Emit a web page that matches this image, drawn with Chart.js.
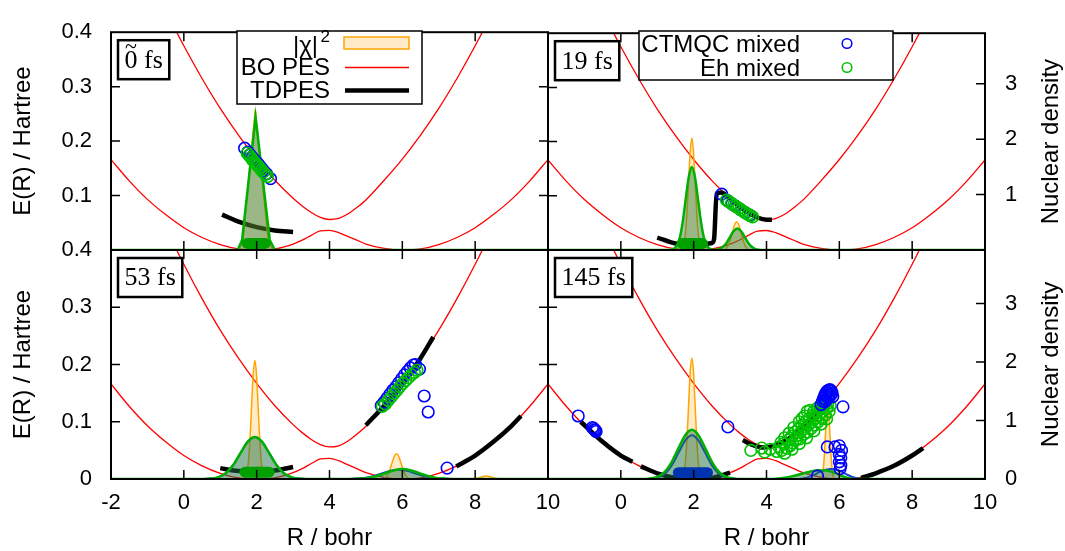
<!DOCTYPE html>
<html><head><meta charset="utf-8">
<script src="https://cdn.jsdelivr.net/npm/chart.js@4.4.1/dist/chart.umd.min.js"></script>
<style>
html,body{margin:0;padding:0;background:#fff;overflow:hidden}
#wrap{position:relative;width:1065px;height:551px;background:#fff}
canvas{position:absolute;left:0;top:0}
</style></head>
<body><div id="wrap">
<canvas id="p0" width="1065" height="551"></canvas>
<canvas id="p1" width="1065" height="551"></canvas>
<canvas id="p2" width="1065" height="551"></canvas>
<canvas id="p3" width="1065" height="551"></canvas>
</div>
<script>
// ---------- axes / ticks ----------
const X_TICKS = [-2, 0, 2, 4, 6, 8, 10];
const X_LABELS_LEFT = [-2, 0, 2, 4, 6, 8, 10];
const X_LABELS_RIGHT = [0, 2, 4, 6, 8, 10];
const E_TICKS = [0, 0.1, 0.2, 0.3, 0.4];
const E_LABELS_TOP = [0.1, 0.2, 0.3, 0.4];
const E_LABELS_BOTTOM = [0, 0.1, 0.2, 0.3, 0.4];
const D_TICKS = [0, 1, 2, 3];
const D_LABELS_TOP = [1, 2, 3];
const D_LABELS_BOTTOM = [0, 1, 2, 3];
const TIMES = ['0 fs', '19 fs', '53 fs', '145 fs'];
const TIME_TILDE = [true, false, false, false];

// ---------- BO potential energy surfaces ----------
const R_BO = [-2,-1.5,-1,-0.5,0,0.5,1,1.5,2,2.5,3,3.25,3.5,3.75,4,4.25,4.5,4.75,5,5.5,6,6.5,7,7.5,8,8.5,9,9.5,10];
const BO_LOWER = [0.166,0.127,0.093,0.065,0.041,0.023,0.010,0.002,0.000,0.002,0.011,0.018,0.027,0.035,0.036,0.032,0.025,0.018,0.011,0.003,0.000,0.002,0.010,0.023,0.041,0.065,0.093,0.127,0.166];
const BO_UPPER = [0.666,0.585,0.510,0.440,0.375,0.315,0.260,0.211,0.167,0.128,0.095,0.081,0.069,0.060,0.056,0.058,0.066,0.078,0.092,0.128,0.167,0.211,0.260,0.315,0.375,0.440,0.510,0.585,0.666];

// ---------- TDPES (R, E) ----------
const TDPES_0 = [[1.05,0.065],[1.5,0.052],[2.0,0.042],[2.5,0.036],[3.0,0.033]];
const TDPES_19 = [[1.0,0.023],[1.5,0.012],[2.0,0.009],[2.5,0.013],[2.56,0.02],[2.63,0.104],[2.75,0.106],[3.0,0.095],[3.25,0.081],[3.5,0.069],[3.75,0.060],[4.0,0.056],[4.15,0.056]];
const TDPES_53 = [[1.0,0.019],[1.5,0.014],[2.0,0.013],[2.5,0.015],[3.0,0.021],[4.0,null],[5.0,0.094],[5.5,0.128],[6.0,0.167],[6.5,0.211],[6.85,0.248],[7.2,null],[7.48,0.022],[8.0,0.041],[8.5,0.065],[9.0,0.093],[9.26,0.110]];
const TDPES_145 = [[-1.1,0.100],[-0.5,0.065],[0,0.041],[0.32,0.030],[0.45,null],[0.55,0.022],[1,0.010],[1.5,0.002],[2,0.0],[2.5,0.002],[3.0,0.011],[3.2,null],[3.35,0.068],[3.6,0.060],[3.9,0.055],[4.2,0.058],[4.6,0.070],[5.0,0.090],[5.5,0.125],[5.7,0.140],[6.2,null],[6.6,0.002],[7.0,0.010],[7.5,0.023],[8.0,0.041],[8.3,0.054]];

// ---------- nuclear densities (R, density) ----------
const EXACT_0 = [[-2,0],[1.5,0],[1.62,0.15],[1.96,2.52],[2.32,0.15],[2.45,0],[10,0]];
const EH_0 = [[-2,0],[1.48,0],[1.6,0.18],[1.97,2.39],[2.36,0.18],[2.5,0],[10,0]];

const EXACT_19 = [[-2,0],[1.6,0],[1.68,0.02],[1.725,0.09],[1.77,0.27],[1.815,0.66],[1.86,1.23],[1.905,1.78],[1.95,2.02],[1.995,1.78],[2.04,1.23],[2.085,0.66],[2.13,0.27],[2.175,0.09],[2.22,0.02],[2.3,0],[2.83,0],[2.88,0.022],[2.94,0.069],[3.0,0.166],[3.06,0.31],[3.12,0.45],[3.18,0.51],[3.24,0.45],[3.3,0.31],[3.36,0.166],[3.42,0.069],[3.48,0.022],[3.55,0],[10,0]];
const EH_19 = [[-2,0],[1.3,0],[1.44,0.017],[1.525,0.066],[1.61,0.2],[1.695,0.49],[1.78,0.91],[1.865,1.32],[1.95,1.5],[2.035,1.32],[2.12,0.91],[2.205,0.49],[2.29,0.2],[2.375,0.066],[2.46,0.017],[2.6,0.004],[2.7,0.017],[2.8,0.053],[2.9,0.127],[3.0,0.237],[3.1,0.344],[3.2,0.39],[3.3,0.344],[3.4,0.237],[3.5,0.127],[3.6,0.053],[3.7,0.017],[3.8,0.004],[3.9,0],[10,0]];

const EXACT_53 = [[-2,0],[1.6,0],[1.68,0.02],[1.725,0.09],[1.77,0.27],[1.815,0.66],[1.86,1.24],[1.905,1.79],[1.95,2.03],[1.995,1.79],[2.04,1.24],[2.085,0.66],[2.13,0.27],[2.175,0.09],[2.22,0.02],[2.3,0],[5.44,0],[5.51,0.017],[5.58,0.058],[5.64,0.13],[5.71,0.26],[5.775,0.38],[5.84,0.43],[5.905,0.38],[5.97,0.26],[6.04,0.13],[6.1,0.058],[6.17,0.017],[6.24,0],[7.9,0],[8.1,0.02],[8.3,0.05],[8.5,0.02],[8.7,0],[10,0]];
const EH_53 = [[-2,0],[0.55,0],[0.75,0.008],[0.95,0.032],[1.15,0.097],[1.35,0.234],[1.55,0.437],[1.75,0.635],[1.95,0.72],[2.15,0.635],[2.35,0.437],[2.55,0.234],[2.75,0.097],[2.95,0.032],[3.15,0.008],[3.35,0],[4.65,0],[4.875,0.008],[5.1,0.023],[5.325,0.055],[5.55,0.103],[5.775,0.15],[6.0,0.17],[6.225,0.15],[6.45,0.103],[6.675,0.055],[6.9,0.023],[7.125,0.008],[7.35,0],[10,0]];
const CT_53 = [[-2,0],[0.55,0],[0.75,0.008],[0.95,0.032],[1.15,0.097],[1.35,0.234],[1.55,0.437],[1.75,0.635],[1.95,0.72],[2.15,0.635],[2.35,0.437],[2.55,0.234],[2.75,0.097],[2.95,0.032],[3.15,0.008],[3.35,0],[4.55,0],[4.775,0.008],[5.0,0.022],[5.225,0.052],[5.45,0.097],[5.675,0.141],[5.9,0.16],[6.125,0.141],[6.35,0.097],[6.575,0.052],[6.8,0.022],[7.025,0.008],[7.25,0],[10,0]];

const EXACT_145 = [[-2,0],[1.6,0],[1.68,0.02],[1.725,0.09],[1.77,0.28],[1.815,0.67],[1.86,1.26],[1.905,1.83],[1.95,2.07],[1.995,1.83],[2.04,1.26],[2.085,0.67],[2.13,0.28],[2.175,0.09],[2.22,0.02],[2.3,0],[5.48,0],[5.53,0.06],[5.56,0.18],[5.59,0.42],[5.62,0.79],[5.65,1.14],[5.68,1.3],[5.71,1.14],[5.74,0.79],[5.77,0.42],[5.8,0.18],[5.83,0.06],[5.88,0],[10,0]];
const EH_145 = [[-2,0],[0.62,0],[0.81,0.009],[1.0,0.037],[1.19,0.113],[1.38,0.273],[1.57,0.51],[1.76,0.741],[1.95,0.84],[2.14,0.741],[2.33,0.51],[2.52,0.273],[2.71,0.113],[2.9,0.037],[3.09,0.009],[3.28,0],[4.2,0],[4.5,0.02],[4.8,0.06],[5.1,0.11],[5.4,0.15],[5.65,0.145],[5.9,0.1],[6.1,0.045],[6.3,0.01],[6.45,0],[10,0]];
const CT_145 = [[-2,0],[0.69,0],[0.87,0.008],[1.05,0.033],[1.23,0.101],[1.41,0.244],[1.59,0.455],[1.77,0.662],[1.95,0.75],[2.13,0.662],[2.31,0.455],[2.49,0.244],[2.67,0.101],[2.85,0.033],[3.03,0.008],[3.21,0],[4.9,0],[5.1,0.02],[5.3,0.07],[5.5,0.13],[5.75,0.17],[6.0,0.14],[6.2,0.08],[6.4,0.025],[6.6,0],[10,0]];

// ---------- trajectories (R, E) ----------
const CT_PTS_0 = [[1.67,0.187],[1.76,0.180],[1.82,0.175],[1.88,0.170],[1.93,0.166],[1.98,0.162],[2.03,0.159],[2.08,0.155],[2.14,0.150],[2.2,0.145],[2.27,0.140],[2.38,0.131]];
const EH_PTS_0 = [[1.74,0.178],[1.79,0.174],[1.84,0.170],[1.88,0.166],[1.92,0.163],[1.96,0.160],[2.0,0.157],[2.04,0.154],[2.08,0.151],[2.13,0.147],[2.18,0.143],[2.24,0.139],[2.3,0.135]];
const CT_PTS_19 = [[2.77,0.103],[2.93,0.091],[3.05,0.085],[3.15,0.081],[3.3,0.074],[3.42,0.069],[3.55,0.064]];
const EH_PTS_19 = [[2.9,0.092],[2.97,0.089],[3.04,0.086],[3.1,0.083],[3.17,0.080],[3.24,0.077],[3.3,0.074],[3.37,0.071],[3.43,0.068],[3.5,0.066],[3.56,0.063],[3.62,0.061]];
const CT_PTS_53 = [[5.42,0.128],[5.5,0.134],[5.58,0.141],[5.66,0.148],[5.74,0.155],[5.82,0.161],[5.9,0.168],[5.98,0.175],[6.06,0.182],[6.14,0.188],[6.22,0.194],[6.3,0.199],[6.36,0.200],[6.47,0.192],[6.6,0.145],[6.71,0.117],[7.23,0.019]];
const EH_PTS_53 = [[5.45,0.127],[5.53,0.131],[5.61,0.137],[5.69,0.143],[5.77,0.149],[5.85,0.155],[5.93,0.161],[6.01,0.167],[6.09,0.172],[6.17,0.177],[6.25,0.182],[6.33,0.186],[6.4,0.190]];
const CT_PTS_145 = [[-1.17,0.110],[-0.78,0.090],[-0.75,0.088],[-0.72,0.086],[-0.70,0.085],[-0.68,0.083],[2.94,0.091],[5.4,0.005],[5.5,0.130],[5.54,0.136],[5.57,0.141],[5.6,0.146],[5.63,0.150],[5.66,0.153],[5.7,0.155],[5.74,0.156],[5.78,0.154],[5.8,0.150],[5.76,0.146],[5.72,0.148],[5.68,0.142],[5.64,0.138],[5.6,0.135],[5.82,0.144],[6.1,0.126],[5.67,0.056],[5.88,0.056],[6.0,0.058],[6.06,0.050],[6.0,0.043],[6.04,0.037],[6.0,0.030],[6.04,0.024],[6.02,0.018]];
const EH_PTS_145 = [[3.57,0.050],[3.87,0.054],[3.95,0.047],[4.28,0.048],[4.35,0.056],[4.42,0.050],[4.48,0.062],[4.55,0.054],[4.6,0.068],[4.65,0.058],[4.7,0.075],[4.72,0.063],[4.78,0.082],[4.8,0.068],[4.85,0.076],[4.88,0.088],[4.92,0.070],[4.95,0.083],[4.98,0.094],[5.02,0.078],[5.05,0.088],[5.08,0.100],[5.12,0.082],[5.15,0.094],[5.18,0.106],[5.22,0.088],[5.25,0.100],[5.28,0.112],[5.32,0.094],[5.35,0.106],[5.38,0.118],[5.42,0.100],[5.45,0.112],[5.48,0.124],[5.52,0.106],[5.55,0.118],[5.58,0.128],[5.62,0.112],[5.65,0.124],[5.68,0.132],[5.72,0.118],[5.75,0.128],[5.6,0.135],[5.7,0.140],[5.5,0.130],[5.4,0.124],[5.3,0.118],
  [4.62,0.080],[4.75,0.090],[4.9,0.100],[5.05,0.110],[5.2,0.120],[4.5,0.072],[4.4,0.064],[5.12,0.118],[4.98,0.106],[4.7,0.052],[4.9,0.062],[5.1,0.072],[5.3,0.084],[5.5,0.096],[5.65,0.105],[4.5,0.045],[4.1,0.052]];

// trajectory positions piled at the bottom (R range, E level)
const BAR_0 = [[1.74,0.012],[2.23,0.012]];
const BAR_19 = [[1.69,0.012],[2.24,0.012]];
const BAR_53 = [[1.68,0.012],[2.34,0.012]];
const BAR_145 = [[1.58,0.011],[2.38,0.011]];

// ---------- helpers ----------
const xy = arr => arr.map(p => ({x: p[0], y: p[1]}));
const zipXY = (xs, ys) => xs.map((x, i) => ({x, y: ys[i]}));

Chart.defaults.font.family = '"Liberation Sans", Arial, sans-serif';
Chart.defaults.color = '#000';

const SANS = '"Liberation Sans", Arial, sans-serif';
const SERIF = '"Liberation Serif", "Times New Roman", serif';

const decor = {
  id: 'decor',
  afterDatasetsDraw(chart, args, o) {
    const {ctx, chartArea: a, scales} = chart;
    ctx.save();
    const L = 9;
    ctx.strokeStyle = '#000';
    ctx.lineWidth = 1.5;
    ctx.beginPath();
    X_TICKS.forEach(v => {
      const p = scales.x.getPixelForValue(v);
      if (p > a.left + 2 && p < a.right - 2) {
        ctx.moveTo(p, a.bottom); ctx.lineTo(p, a.bottom - L);
        ctx.moveTo(p, a.top); ctx.lineTo(p, a.top + L);
      }
    });
    E_TICKS.forEach(v => {
      const p = scales.y.getPixelForValue(v);
      if (p > a.top + 2 && p < a.bottom - 2) {
        ctx.moveTo(a.left, p); ctx.lineTo(a.left + L, p);
        if (o.col === 0) { ctx.moveTo(a.right, p); ctx.lineTo(a.right - L, p); }
      }
    });
    if (o.col === 1) {
      D_TICKS.forEach(v => {
        const p = scales.y2.getPixelForValue(v);
        if (p > a.top + 2 && p < a.bottom - 2) { ctx.moveTo(a.right, p); ctx.lineTo(a.right - L, p); }
      });
    }
    ctx.stroke();
    // frame
    ctx.lineWidth = 2;
    ctx.strokeRect(a.left, a.top, a.right - a.left, a.bottom - a.top);

    // time label box
    ctx.font = '26px ' + SERIF;
    const tw = ctx.measureText(o.time).width;
    const bx = a.left + 7, by = a.top + 8, bw = tw + 13, bh = 39;
    ctx.fillStyle = '#fff';
    ctx.fillRect(bx, by, bw, bh);
    ctx.lineWidth = 2.5;
    ctx.strokeRect(bx, by, bw, bh);
    ctx.fillStyle = '#000';
    ctx.textAlign = 'left';
    ctx.textBaseline = 'middle';
    ctx.fillText(o.time, bx + 6.5, by + bh / 2 + 1);
    if (o.tilde) {
      const w0 = ctx.measureText('0').width;
      ctx.textAlign = 'center';
      ctx.font = '22px ' + SERIF;
      ctx.fillText('~', bx + 6.5 + w0 / 2, by + 7);
    }

    // legends
    ctx.font = '24px ' + SANS;
    ctx.textAlign = 'right';
    ctx.textBaseline = 'middle';
    if (o.legend === 'bo') {
      ctx.fillStyle = '#fff';
      ctx.fillRect(237, 31, 185, 73);
      ctx.lineWidth = 1.5; ctx.strokeStyle = '#000';
      ctx.strokeRect(237, 31, 185, 73);
      ctx.fillStyle = '#000';
      ctx.fillText('|\u03c7|', 318, 46);
      ctx.font = '17px ' + SANS;
      ctx.fillText('2', 330, 37);
      ctx.font = '24px ' + SANS;
      ctx.fillText('BO PES', 330, 68);
      ctx.fillText('TDPES', 330, 91);
      ctx.fillStyle = 'rgba(255,165,0,0.22)';
      ctx.fillRect(344, 37, 65, 12);
      ctx.strokeStyle = '#ffa500'; ctx.lineWidth = 1.5;
      ctx.strokeRect(344, 37, 65, 12);
      ctx.strokeStyle = '#ff0000'; ctx.lineWidth = 1.3;
      ctx.beginPath(); ctx.moveTo(345, 67.5); ctx.lineTo(409, 67.5); ctx.stroke();
      ctx.strokeStyle = '#000'; ctx.lineWidth = 4.5;
      ctx.beginPath(); ctx.moveTo(345, 90.5); ctx.lineTo(409, 90.5); ctx.stroke();
    } else if (o.legend === 'traj') {
      ctx.fillStyle = '#fff';
      ctx.fillRect(639, 31, 254, 49);
      ctx.lineWidth = 1.5; ctx.strokeStyle = '#000';
      ctx.strokeRect(639, 31, 254, 49);
      ctx.fillStyle = '#000';
      ctx.fillText('CTMQC mixed', 800, 45);
      ctx.fillText('Eh mixed', 800, 69);
      ctx.lineWidth = 1.5;
      ctx.strokeStyle = '#0000ff';
      ctx.beginPath(); ctx.arc(847, 43.5, 4.8, 0, 2 * Math.PI); ctx.stroke();
      ctx.strokeStyle = '#00c000';
      ctx.beginPath(); ctx.arc(847, 67.5, 4.8, 0, 2 * Math.PI); ctx.stroke();
    }
    // right-hand axis title
    if (o.col === 1) {
      ctx.save();
      ctx.translate(1051, (a.top + a.bottom) / 2);
      ctx.rotate(-Math.PI / 2);
      ctx.font = '24px ' + SANS;
      ctx.textAlign = 'center';
      ctx.textBaseline = 'middle';
      ctx.fillStyle = '#000';
      ctx.fillText('Nuclear density', 0, 0);
      ctx.restore();
    }
    ctx.restore();
  }
};

function makePanel(spec) {
  const {id, col, row} = spec;
  const curve = spec.linear ? {tension: 0} : {cubicInterpolationMode: 'monotone'};
  const ds = [];
  ds.push({data: zipXY(R_BO, BO_LOWER), borderColor: '#ff0000', borderWidth: 1.3, pointRadius: 0, cubicInterpolationMode: 'monotone', yAxisID: 'y', order: 9});
  ds.push({data: zipXY(R_BO, BO_UPPER), borderColor: '#ff0000', borderWidth: 1.3, pointRadius: 0, cubicInterpolationMode: 'monotone', yAxisID: 'y', order: 9});
  ds.push({data: xy(spec.tdpes), borderColor: '#000', borderWidth: 4.5, pointRadius: 0, cubicInterpolationMode: 'monotone', spanGaps: false, yAxisID: 'y', order: 8});
  ds.push(Object.assign({data: xy(spec.exact), borderColor: '#ffa500', borderWidth: 1.5, backgroundColor: 'rgba(255,165,0,0.22)', fill: 'origin', pointRadius: 0, yAxisID: 'y2', order: 7}, curve));
  if (spec.ct) ds.push(Object.assign({data: xy(spec.ct), borderColor: '#1a3fd6', borderWidth: 2, backgroundColor: 'rgba(30,60,200,0.10)', fill: 'origin', pointRadius: 0, yAxisID: 'y2', order: 6}, curve));
  ds.push(Object.assign({data: xy(spec.eh), borderColor: '#00b000', borderWidth: 2.5, backgroundColor: 'rgba(30,120,50,0.45)', fill: 'origin', pointRadius: 0, yAxisID: 'y2', order: 5}, curve));
  ds.push({data: xy(spec.bar), borderColor: spec.barColor, borderWidth: 11, borderCapStyle: 'round', pointRadius: 0, yAxisID: 'y', order: 4});
  const ptCT = {data: xy(spec.ctPts), showLine: false, pointRadius: 5.8, pointBorderWidth: 1.6, pointBorderColor: '#0000ff', pointBackgroundColor: 'rgba(0,0,0,0)', yAxisID: 'y', order: spec.ctOnTop ? 1 : 2};
  const ptEH = {data: xy(spec.ehPts), showLine: false, pointRadius: 5.8, pointBorderWidth: 1.6, pointBorderColor: '#00c000', pointBackgroundColor: 'rgba(0,0,0,0)', yAxisID: 'y', order: spec.ctOnTop ? 2 : 1};
  ds.push(ptCT, ptEH);

  const padding = {left: col === 0 ? 0 : 548, right: col === 0 ? 517 : 0, top: row === 0 ? 21 : 250, bottom: row === 0 ? 301 : 0};
  const scales = {
    x: {type: 'linear', min: -2, max: 10, display: row === 1,
        grid: {display: false, drawTicks: false}, border: {display: false},
        ticks: {font: {size: 22}, padding: 11, autoSkip: false, maxRotation: 0, callback: v => String(v)},
        afterBuildTicks: s => { s.ticks = (col === 0 ? X_LABELS_LEFT : X_LABELS_RIGHT).map(v => ({value: v})); },
        title: {display: true, text: 'R / bohr', font: {size: 24, lineHeight: 1.04}, padding: {top: 0, bottom: 0}}},
    y: {type: 'linear', min: 0, max: 0.4, display: col === 0, position: 'left',
        grid: {display: false, drawTicks: false}, border: {display: false},
        ticks: {font: {size: 22}, padding: 19, autoSkip: false, callback: v => String(v)},
        afterBuildTicks: s => { s.ticks = (row === 0 ? E_LABELS_TOP : E_LABELS_BOTTOM).map(v => ({value: v})); },
        title: {display: true, text: 'E(R) / Hartree', font: {size: 24, lineHeight: 1.2}, padding: {top: 8.6, bottom: 0}}},
    y2: {type: 'linear', min: 0, max: 3.915, display: col === 1, position: 'right',
        grid: {display: false, drawTicks: false}, border: {display: false},
        ticks: {font: {size: 22}, padding: 20, autoSkip: false, callback: v => String(v)},
        afterBuildTicks: s => { s.ticks = (row === 0 ? D_LABELS_TOP : D_LABELS_BOTTOM).map(v => ({value: v})); }}
  };
  if (row === 1) scales.x.afterFit = s => { s.height = 72; };
  if (col === 0) scales.y.afterFit = s => { s.width = 111; };
  if (col === 1) scales.y2.afterFit = s => { s.width = 80; };

  return new Chart(document.getElementById(id), {
    type: 'line',
    data: {datasets: ds},
    options: {
      responsive: false, animation: false, devicePixelRatio: 1, events: [],
      layout: {padding},
      plugins: {legend: {display: false}, tooltip: {enabled: false},
                decor: {col, row, time: spec.time, tilde: spec.tilde, legend: spec.legend}},
      scales
    },
    plugins: [decor]
  });
}

makePanel({id: 'p0', col: 0, row: 0, time: TIMES[0], tilde: TIME_TILDE[0], legend: 'bo', linear: true,
  tdpes: TDPES_0, exact: EXACT_0, eh: EH_0, ct: null, bar: BAR_0, barColor: '#00a000',
  ctPts: CT_PTS_0, ehPts: EH_PTS_0, ctOnTop: false});
makePanel({id: 'p1', col: 1, row: 0, time: TIMES[1], tilde: TIME_TILDE[1], legend: 'traj',
  tdpes: TDPES_19, exact: EXACT_19, eh: EH_19, ct: null, bar: BAR_19, barColor: '#00a000',
  ctPts: CT_PTS_19, ehPts: EH_PTS_19, ctOnTop: false});
makePanel({id: 'p2', col: 0, row: 1, time: TIMES[2], tilde: TIME_TILDE[2], legend: null,
  tdpes: TDPES_53, exact: EXACT_53, eh: EH_53, ct: CT_53, bar: BAR_53, barColor: '#00a000',
  ctPts: CT_PTS_53, ehPts: EH_PTS_53, ctOnTop: false});
makePanel({id: 'p3', col: 1, row: 1, time: TIMES[3], tilde: TIME_TILDE[3], legend: null,
  tdpes: TDPES_145, exact: EXACT_145, eh: EH_145, ct: CT_145, bar: BAR_145, barColor: '#0033b0',
  ctPts: CT_PTS_145, ehPts: EH_PTS_145, ctOnTop: true});
</script>
</body></html>
